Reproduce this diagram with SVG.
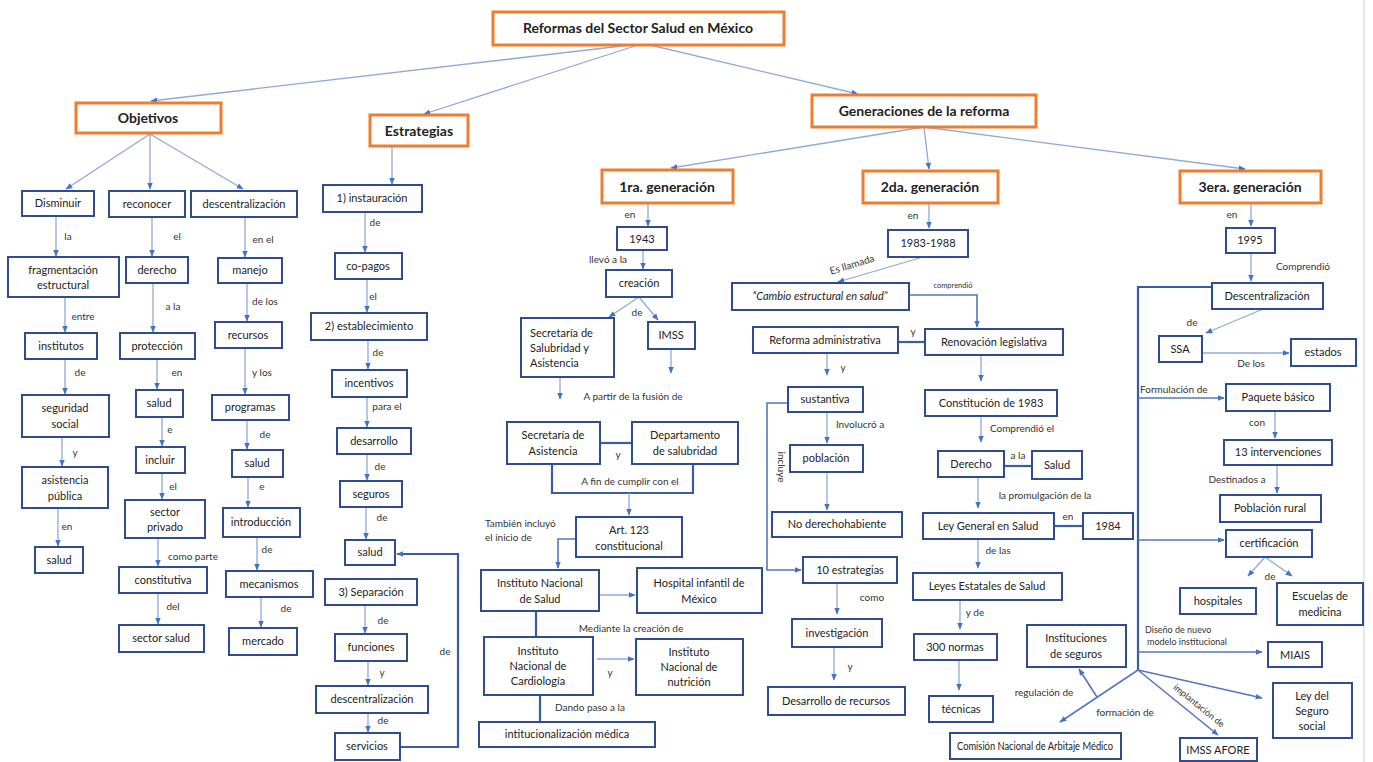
<svg xmlns="http://www.w3.org/2000/svg" width="1373" height="762" viewBox="0 0 1373 762">
<style>
.ob{fill:#fff;stroke:#ED7D31;stroke-width:3}
.bb{fill:#fff;stroke:#2F4C8C;stroke-width:2}
text{font-family:Lato,"Liberation Sans",sans-serif;fill:#222}
.t{font-size:11px;text-anchor:middle}
.tl{font-size:11px;text-anchor:start}
.h{font-size:14px;font-weight:bold;text-anchor:middle}
.l{font-size:10px;text-anchor:middle;fill:#333}
.ls{font-size:10px;text-anchor:start;fill:#333}
.c{fill:none;stroke:#8EAADB;stroke-width:1.3;marker-end:url(#a)}
.cn{fill:none;stroke:#8EAADB;stroke-width:1.3}
.m{fill:none;stroke:#5577BB;stroke-width:1.6}
.ma{fill:none;stroke:#5577BB;stroke-width:1.6;marker-end:url(#a)}
.k{fill:none;stroke:#3A5BA5;stroke-width:2.2}
.ka{fill:none;stroke:#3A5BA5;stroke-width:2.2;marker-end:url(#a)}
</style>
<defs>
<marker id="a" viewBox="0 0 10 10" refX="9" refY="5" markerWidth="7" markerHeight="7" markerUnits="userSpaceOnUse" orient="auto"><path d="M0,1 L10,5 L0,9 z" fill="#4472C4"/></marker>
</defs>
<rect width="1373" height="762" fill="#fff"/>
<line x1="1364" y1="0" x2="1364" y2="762" stroke="#e2e2e2" stroke-width="1.5"/>

<g id="connectors">
<!-- top -->
<path class="c" d="M630,45 L151,101"/>
<path class="c" d="M638,45 L424,114"/>
<path class="c" d="M650,45 L858,94"/>
<!-- Objetivos -->
<path class="c" d="M150,134 L66,189"/>
<path class="c" d="M150,134 L150,189"/>
<path class="c" d="M150,134 L243,189"/>
<path class="c" d="M56,217 L56,256"/>
<path class="c" d="M65,297 L65,332"/>
<path class="c" d="M65,359 L65,394"/>
<path class="c" d="M62,437 L62,466"/>
<path class="c" d="M58,508 L58,546"/>
<path class="c" d="M152,218 L152,256"/>
<path class="c" d="M153,283 L153,332"/>
<path class="c" d="M157,359 L157,389"/>
<path class="c" d="M162,417 L162,446"/>
<path class="c" d="M162,473 L162,499"/>
<path class="c" d="M158,538 L158,566"/>
<path class="c" d="M158,593 L158,624"/>
<path class="c" d="M245,218 L245,257"/>
<path class="c" d="M247,283 L247,321"/>
<path class="c" d="M245,348 L245,394"/>
<path class="c" d="M247,420 L247,449"/>
<path class="c" d="M248,477 L248,507"/>
<path class="c" d="M257,537 L257,570"/>
<path class="c" d="M261,597 L261,627"/>
<!-- Estrategias -->
<path class="c" d="M392,147 L392,184"/>
<path class="c" d="M365,212 L365,252"/>
<path class="c" d="M367,279 L367,312"/>
<path class="c" d="M368,340 L368,369"/>
<path class="c" d="M367,397 L367,427"/>
<path class="c" d="M367,454 L367,480"/>
<path class="c" d="M366,507 L366,539"/>
<path class="c" d="M365,605 L365,633"/>
<path class="c" d="M368,661 L368,685"/>
<path class="c" d="M368,713 L368,732"/>
<path class="ka" d="M400,747 L458,747 L458,554 L397,554"/>
<!-- Generaciones -->
<path class="c" d="M924,127 L671,168"/>
<path class="c" d="M924,127 L929,169"/>
<path class="c" d="M924,127 L1245,169"/>
<!-- 1ra generacion -->
<path class="c" d="M648,203 L648,226"/>
<path class="c" d="M643,250 L643,269"/>
<path class="c" d="M639,297 L609,317"/>
<path class="c" d="M639,297 L658,320"/>
<path class="c" d="M671,349 L671,373"/>
<path class="c" d="M560,377 L560,399"/>
<path class="k" d="M600,443 L632,443"/>
<path class="k" d="M552,464 L552,493 L693,493 L693,464"/>
<path class="c" d="M629,493 L629,515"/>
<path class="ma" d="M576,539 L558,539 L558,568"/>
<path class="c" d="M599,595 L635,595"/>
<path class="k" d="M536,611 L536,637"/>
<path class="c" d="M597,659 L634,659"/>
<path class="k" d="M540,695 L540,722"/>
<!-- 2da generacion -->
<path class="c" d="M929,203 L929,228"/>
<path class="c" d="M923,257 L838,282"/>
<path class="ma" d="M909,295 L977,295 L977,327"/>
<path class="k" d="M898,342 L925,342"/>
<path class="c" d="M827,353 L827,375"/>
<path class="c" d="M981,355 L981,381"/>
<path class="ma" d="M788,403 L767,403 L767,570 L801,570"/>
<path class="c" d="M827,412 L827,443"/>
<path class="c" d="M827,472 L827,510"/>
<path class="c" d="M837,583 L837,614"/>
<path class="c" d="M834,647 L834,680"/>
<path class="c" d="M981,416 L981,442"/>
<path class="k" d="M1004,466 L1032,466"/>
<path class="c" d="M978,477 L978,508"/>
<path class="k" d="M1054,526 L1083,526"/>
<path class="c" d="M978,539 L978,568"/>
<path class="c" d="M960,600 L960,629"/>
<path class="c" d="M959,660 L959,690"/>
<!-- 3era generacion -->
<path class="c" d="M1251,203 L1251,226"/>
<path class="c" d="M1251,253 L1251,281"/>
<path class="k" d="M1212,287 L1138,287 L1138,670"/>
<path class="c" d="M1263,309 L1206,333"/>
<path class="c" d="M1202,353 L1289,353"/>
<path class="ma" d="M1138,398 L1224,398"/>
<path class="c" d="M1275,411 L1275,438"/>
<path class="c" d="M1277,465 L1277,493"/>
<path class="ma" d="M1138,540 L1224,540"/>
<path class="c" d="M1265,557 L1248,576"/>
<path class="c" d="M1265,557 L1292,576"/>
<path class="ma" d="M1138,652 L1262,652"/>
<path class="ma" d="M1138,670 L1262,698"/>
<path class="ma" d="M1138,670 L1218,735"/>
<path class="ma" d="M1138,670 L1060,722"/>
<path class="ma" d="M1097,697 L1079,669"/>
</g>

<g id="labels">
<text class="l" x="68" y="240">la</text>
<text class="l" x="177" y="240">el</text>
<text class="l" x="263" y="243">en el</text>
<text class="l" x="83" y="320">entre</text>
<text class="l" x="173" y="310">a la</text>
<text class="l" x="265" y="305">de los</text>
<text class="l" x="80" y="376">de</text>
<text class="l" x="177" y="376">en</text>
<text class="l" x="262" y="376">y los</text>
<text class="l" x="170" y="433">e</text>
<text class="l" x="265" y="438">de</text>
<text class="l" x="75" y="456">y</text>
<text class="l" x="173" y="490">el</text>
<text class="l" x="262" y="490">e</text>
<text class="l" x="67" y="530">en</text>
<text class="l" x="267" y="553">de</text>
<text class="l" x="193" y="560">como parte</text>
<text class="l" x="173" y="610">del</text>
<text class="l" x="286" y="612">de</text>
<text class="l" x="375" y="226">de</text>
<text class="l" x="373" y="300">el</text>
<text class="l" x="378" y="356">de</text>
<text class="l" x="387" y="410">para el</text>
<text class="l" x="380" y="470">de</text>
<text class="l" x="382" y="521">de</text>
<text class="l" x="383" y="624">de</text>
<text class="l" x="382" y="676">y</text>
<text class="l" x="383" y="724">de</text>
<text class="l" x="445" y="655">de</text>
<text class="l" x="630" y="218">en</text>
<text class="l" x="608" y="263">llevó a la</text>
<text class="l" x="637" y="316">de</text>
<text class="l" x="633" y="400">A partir de la fusión de</text>
<text class="l" x="618" y="458">y</text>
<text class="l" x="630" y="485">A fin de cumplir con el</text>
<text class="ls" x="485" y="527">También incluyó</text>
<text class="ls" x="485" y="541">el inicio de</text>
<text class="l" x="631" y="632">Mediante la creación de</text>
<text class="l" x="610" y="676">y</text>
<text class="l" x="590" y="711">Dando paso a la</text>
<text class="l" x="913" y="219">en</text>
<text class="l" x="853" y="268" transform="rotate(-17 853 268)">Es llamada</text>
<text class="l" x="953" y="288" style="font-size:7.5px">comprendió</text>
<text class="l" x="913" y="335">y</text>
<text class="l" x="843" y="371">y</text>
<text class="l" x="778" y="467" transform="rotate(90 778 467)">incluye</text>
<text class="l" x="860" y="428">Involucró a</text>
<text class="l" x="872" y="601">como</text>
<text class="l" x="850" y="670">y</text>
<text class="l" x="1022" y="432">Comprendió el</text>
<text class="l" x="1018" y="459">a la</text>
<text class="l" x="1045" y="499">la promulgación de la</text>
<text class="l" x="1068" y="520">en</text>
<text class="l" x="998" y="554">de las</text>
<text class="l" x="975" y="616">y de</text>
<text class="l" x="1232" y="218">en</text>
<text class="l" x="1303" y="270">Comprendió</text>
<text class="l" x="1192" y="326">de</text>
<text class="l" x="1251" y="367">De los</text>
<text class="ls" x="1140" y="393">Formulación de</text>
<text class="l" x="1257" y="426">con</text>
<text class="l" x="1237" y="483">Destinados a</text>
<text class="l" x="1270" y="580">de</text>
<text class="ls" x="1145" y="633" style="font-size:9px">Diseño de nuevo</text>
<text class="ls" x="1147" y="645" style="font-size:9px">modelo institucional</text>
<text class="l" x="1197" y="708" transform="rotate(39 1197 708)" style="font-size:9px">implantación de</text>
<text class="l" x="1125" y="716">formación de</text>
<text class="l" x="1044" y="696">regulación de</text>
</g>

<g id="n-title"><rect class="ob" x="493" y="12" width="291" height="33"/><text class="h" x="638" y="33">Reformas del Sector Salud en México</text></g>
<g id="n-objetivos"><rect class="ob" x="76" y="103" width="145" height="30"/><text class="h" x="148" y="123">Objetivos</text></g>
<g id="n-estrategias"><rect class="ob" x="370" y="115" width="98" height="31"/><text class="h" x="419" y="136">Estrategias</text></g>
<g id="n-generaciones"><rect class="ob" x="812" y="95" width="224" height="32"/><text class="h" x="924" y="116">Generaciones de la reforma</text></g>
<g id="n-gen1"><rect class="ob" x="602" y="170" width="131" height="33"/><text class="h" x="667" y="192">1ra. generación</text></g>
<g id="n-gen2"><rect class="ob" x="863" y="171" width="135" height="32"/><text class="h" x="930" y="192">2da. generación</text></g>
<g id="n-gen3"><rect class="ob" x="1180" y="171" width="141" height="32"/><text class="h" x="1250" y="192">3era. generación</text></g>

<g id="n-disminuir"><rect class="bb" x="22" y="191" width="72" height="25"/><text class="t" x="58" y="207">Disminuir</text></g>
<g id="n-reconocer"><rect class="bb" x="109" y="191" width="76" height="26"/><text class="t" x="147" y="208">reconocer</text></g>
<g id="n-descentralizacion1"><rect class="bb" x="191" y="191" width="106" height="26"/><text class="t" x="244" y="208">descentralización</text></g>
<g id="n-fragmentacion"><rect class="bb" x="8" y="257" width="111" height="40"/><text class="t" x="63" y="274">fragmentación</text><text class="t" x="63" y="289">estructural</text></g>
<g id="n-derecho1"><rect class="bb" x="126" y="257" width="62" height="26"/><text class="t" x="157" y="274">derecho</text></g>
<g id="n-manejo"><rect class="bb" x="218" y="258" width="64" height="25"/><text class="t" x="250" y="274">manejo</text></g>
<g id="n-institutos"><rect class="bb" x="25" y="333" width="72" height="26"/><text class="t" x="61" y="350">institutos</text></g>
<g id="n-proteccion"><rect class="bb" x="120" y="333" width="75" height="26"/><text class="t" x="157" y="350">protección</text></g>
<g id="n-recursos"><rect class="bb" x="215" y="322" width="67" height="26"/><text class="t" x="248" y="339">recursos</text></g>
<g id="n-seguridad"><rect class="bb" x="22" y="395" width="87" height="42"/><text class="t" x="65" y="412">seguridad</text><text class="t" x="65" y="428">social</text></g>
<g id="n-salud1"><rect class="bb" x="136" y="390" width="47" height="27"/><text class="t" x="159" y="407">salud</text></g>
<g id="n-programas"><rect class="bb" x="212" y="395" width="77" height="25"/><text class="t" x="250" y="411">programas</text></g>
<g id="n-incluir"><rect class="bb" x="136" y="447" width="49" height="26"/><text class="t" x="160" y="464">incluir</text></g>
<g id="n-salud2"><rect class="bb" x="232" y="450" width="51" height="27"/><text class="t" x="257" y="467">salud</text></g>
<g id="n-asistencia"><rect class="bb" x="22" y="467" width="86" height="41"/><text class="t" x="65" y="484">asistencia</text><text class="t" x="65" y="500">pública</text></g>
<g id="n-sectorprivado"><rect class="bb" x="125" y="500" width="80" height="38"/><text class="t" x="165" y="516">sector</text><text class="t" x="165" y="531">privado</text></g>
<g id="n-introduccion"><rect class="bb" x="223" y="508" width="77" height="29"/><text class="t" x="261" y="526">introducción</text></g>
<g id="n-salud3"><rect class="bb" x="35" y="547" width="48" height="26"/><text class="t" x="59" y="564">salud</text></g>
<g id="n-constitutiva"><rect class="bb" x="119" y="567" width="88" height="26"/><text class="t" x="163" y="584">constitutiva</text></g>
<g id="n-mecanismos"><rect class="bb" x="226" y="571" width="87" height="26"/><text class="t" x="269" y="588">mecanismos</text></g>
<g id="n-sectorsalud"><rect class="bb" x="119" y="625" width="85" height="27"/><text class="t" x="161" y="642">sector salud</text></g>
<g id="n-mercado"><rect class="bb" x="229" y="628" width="68" height="27"/><text class="t" x="263" y="645">mercado</text></g>

<g id="n-instauracion"><rect class="bb" x="323" y="185" width="99" height="27"/><text class="t" x="372" y="202">1) instauración</text></g>
<g id="n-copagos"><rect class="bb" x="335" y="253" width="67" height="26"/><text class="t" x="368" y="270">co-pagos</text></g>
<g id="n-establecimiento"><rect class="bb" x="311" y="313" width="116" height="27"/><text class="t" x="369" y="330">2) establecimiento</text></g>
<g id="n-incentivos"><rect class="bb" x="332" y="370" width="75" height="27"/><text class="t" x="369" y="387">incentivos</text></g>
<g id="n-desarrollo"><rect class="bb" x="337" y="428" width="74" height="26"/><text class="t" x="374" y="445">desarrollo</text></g>
<g id="n-seguros"><rect class="bb" x="340" y="481" width="62" height="26"/><text class="t" x="371" y="498">seguros</text></g>
<g id="n-salud4"><rect class="bb" x="345" y="540" width="50" height="25"/><text class="t" x="370" y="556">salud</text></g>
<g id="n-separacion"><rect class="bb" x="325" y="579" width="92" height="26"/><text class="t" x="371" y="596">3) Separación</text></g>
<g id="n-funciones"><rect class="bb" x="335" y="634" width="72" height="27"/><text class="t" x="371" y="651">funciones</text></g>
<g id="n-descentralizacion2"><rect class="bb" x="316" y="686" width="112" height="27"/><text class="t" x="372" y="703">descentralización</text></g>
<g id="n-servicios"><rect class="bb" x="335" y="733" width="65" height="27"/><text class="t" x="367" y="750">servicios</text></g>

<g id="n-1943"><rect class="bb" x="617" y="227" width="50" height="23"/><text class="t" x="642" y="243">1943</text></g>
<g id="n-creacion"><rect class="bb" x="606" y="270" width="66" height="27"/><text class="t" x="639" y="287">creación</text></g>
<g id="n-ssa1"><rect class="bb" x="521" y="318" width="93" height="59"/><text class="tl" x="530" y="337">Secretaría de</text><text class="tl" x="530" y="352">Salubridad y</text><text class="tl" x="530" y="367">Asistencia</text></g>
<g id="n-imss"><rect class="bb" x="648" y="322" width="47" height="27"/><text class="t" x="671" y="339">IMSS</text></g>
<g id="n-sda"><rect class="bb" x="507" y="422" width="93" height="42"/><text class="t" x="553" y="439">Secretaría de</text><text class="t" x="553" y="455">Asistencia</text></g>
<g id="n-dds"><rect class="bb" x="632" y="422" width="106" height="42"/><text class="t" x="685" y="439">Departamento</text><text class="t" x="685" y="455">de salubridad</text></g>
<g id="n-art123"><rect class="bb" x="576" y="517" width="106" height="40"/><text class="t" x="629" y="534">Art. 123</text><text class="t" x="629" y="550">constitucional</text></g>
<g id="n-ins"><rect class="bb" x="481" y="570" width="118" height="41"/><text class="t" x="540" y="587">Instituto Nacional</text><text class="t" x="540" y="603">de Salud</text></g>
<g id="n-hospital"><rect class="bb" x="637" y="568" width="125" height="45"/><text class="t" x="699" y="587">Hospital infantil de</text><text class="t" x="699" y="603">México</text></g>
<g id="n-inc"><rect class="bb" x="484" y="637" width="109" height="58"/><text class="t" x="538" y="655">Instituto</text><text class="t" x="538" y="670">Nacional de</text><text class="t" x="538" y="685">Cardiología</text></g>
<g id="n-inn"><rect class="bb" x="636" y="639" width="107" height="56"/><text class="t" x="689" y="656">Instituto</text><text class="t" x="689" y="671">Nacional de</text><text class="t" x="689" y="686">nutrición</text></g>
<g id="n-institucionalizacion"><rect class="bb" x="479" y="722" width="176" height="25"/><text class="t" x="567" y="738">intitucionalización médica</text></g>

<g id="n-1983"><rect class="bb" x="888" y="230" width="80" height="27"/><text class="t" x="928" y="247">1983-1988</text></g>
<g id="n-cambio"><rect class="bb" x="732" y="283" width="177" height="27"/><text class="t" x="820" y="300" style="font-style:italic">“Cambio estructural en salud”</text></g>
<g id="n-reforma"><rect class="bb" x="753" y="327" width="145" height="26"/><text class="t" x="825" y="344">Reforma administrativa</text></g>
<g id="n-renovacion"><rect class="bb" x="925" y="329" width="138" height="26"/><text class="t" x="994" y="346">Renovación legislativa</text></g>
<g id="n-sustantiva"><rect class="bb" x="788" y="387" width="75" height="25"/><text class="t" x="825" y="403">sustantiva</text></g>
<g id="n-constitucion"><rect class="bb" x="925" y="390" width="132" height="26"/><text class="t" x="991" y="407">Constitución de 1983</text></g>
<g id="n-poblacion"><rect class="bb" x="790" y="445" width="73" height="27"/><text class="t" x="826" y="462">población</text></g>
<g id="n-derecho2"><rect class="bb" x="938" y="451" width="66" height="26"/><text class="t" x="971" y="468">Derecho</text></g>
<g id="n-salud5"><rect class="bb" x="1032" y="451" width="50" height="28"/><text class="t" x="1057" y="469">Salud</text></g>
<g id="n-noderecho"><rect class="bb" x="772" y="512" width="130" height="25"/><text class="t" x="837" y="528">No derechohabiente</text></g>
<g id="n-leygeneral"><rect class="bb" x="923" y="513" width="131" height="26"/><text class="t" x="988" y="530">Ley General en Salud</text></g>
<g id="n-1984"><rect class="bb" x="1083" y="513" width="50" height="26"/><text class="t" x="1108" y="530">1984</text></g>
<g id="n-10estrategias"><rect class="bb" x="803" y="557" width="94" height="26"/><text class="t" x="850" y="574">10 estrategias</text></g>
<g id="n-leyesestatales"><rect class="bb" x="913" y="573" width="149" height="27"/><text class="t" x="987" y="590">Leyes Estatales de Salud</text></g>
<g id="n-investigacion"><rect class="bb" x="792" y="619" width="90" height="28"/><text class="t" x="837" y="637">investigación</text></g>
<g id="n-300normas"><rect class="bb" x="914" y="634" width="83" height="26"/><text class="t" x="955" y="651">300 normas</text></g>
<g id="n-desarrollorec"><rect class="bb" x="768" y="687" width="137" height="28"/><text class="t" x="836" y="705">Desarrollo de recursos</text></g>
<g id="n-tecnicas"><rect class="bb" x="929" y="696" width="64" height="26"/><text class="t" x="961" y="713">técnicas</text></g>

<g id="n-1995"><rect class="bb" x="1226" y="228" width="49" height="25"/><text class="t" x="1250" y="244">1995</text></g>
<g id="n-descentralizacion3"><rect class="bb" x="1212" y="283" width="111" height="26"/><text class="t" x="1267" y="300">Descentralización</text></g>
<g id="n-ssa2"><rect class="bb" x="1159" y="336" width="43" height="26"/><text class="t" x="1180" y="353">SSA</text></g>
<g id="n-estados"><rect class="bb" x="1291" y="339" width="65" height="27"/><text class="t" x="1323" y="356">estados</text></g>
<g id="n-paquete"><rect class="bb" x="1226" y="384" width="104" height="27"/><text class="t" x="1278" y="401">Paquete básico</text></g>
<g id="n-13int"><rect class="bb" x="1224" y="440" width="108" height="25"/><text class="t" x="1278" y="456">13 intervenciones</text></g>
<g id="n-poblacionrural"><rect class="bb" x="1220" y="495" width="101" height="27"/><text class="t" x="1270" y="512">Población rural</text></g>
<g id="n-certificacion"><rect class="bb" x="1226" y="530" width="86" height="27"/><text class="t" x="1269" y="547">certificación</text></g>
<g id="n-hospitales"><rect class="bb" x="1180" y="588" width="76" height="26"/><text class="t" x="1218" y="605">hospitales</text></g>
<g id="n-escuelas"><rect class="bb" x="1277" y="583" width="86" height="42"/><text class="t" x="1320" y="600">Escuelas de</text><text class="t" x="1320" y="616">medicina</text></g>
<g id="n-miais"><rect class="bb" x="1268" y="642" width="54" height="25"/><text class="t" x="1295" y="659">MIAIS</text></g>
<g id="n-instituciones"><rect class="bb" x="1027" y="625" width="99" height="42"/><text class="t" x="1076" y="642">Instituciones</text><text class="t" x="1076" y="658">de seguros</text></g>
<g id="n-leyseguro"><rect class="bb" x="1273" y="683" width="79" height="55"/><text class="t" x="1312" y="700">Ley del</text><text class="t" x="1312" y="715">Seguro</text><text class="t" x="1312" y="730">social</text></g>
<g id="n-comision"><rect class="bb" x="950" y="733" width="171" height="26"/><text class="t" x="1035" y="750" textLength="156" lengthAdjust="spacingAndGlyphs">Comisión Nacional de Arbitaje Médico</text></g>
<g id="n-imssafore"><rect class="bb" x="1180" y="738" width="77" height="23"/><text class="t" x="1218" y="754">IMSS AFORE</text></g>
</svg>
